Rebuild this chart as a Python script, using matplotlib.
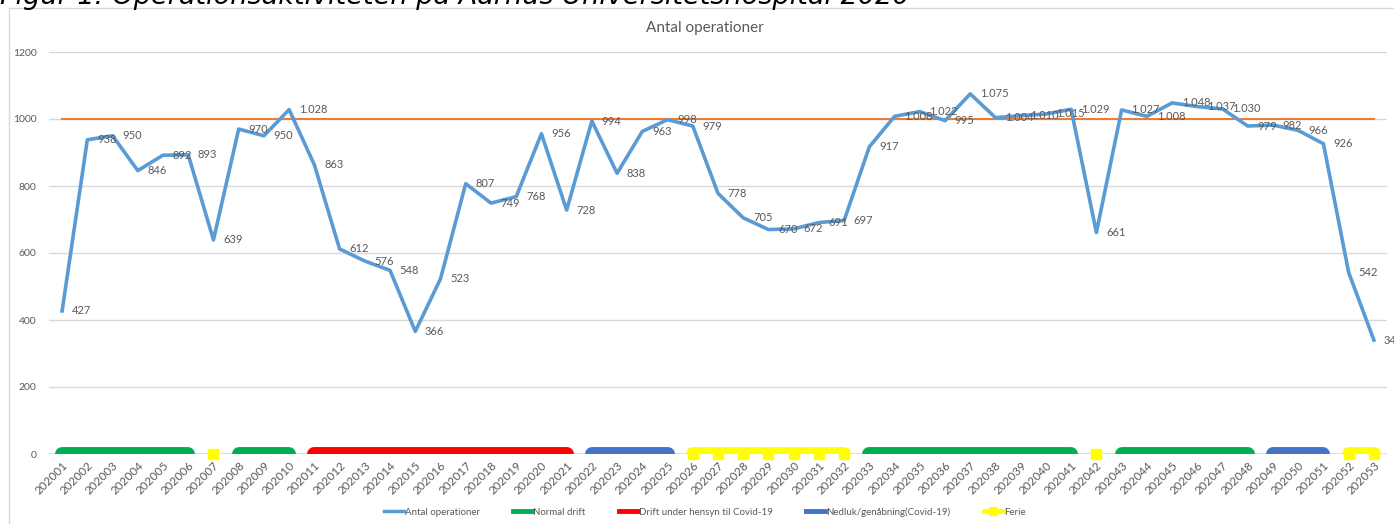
import numpy as np
import matplotlib
matplotlib.use("Agg")
import matplotlib.pyplot as plt
from matplotlib.lines import Line2D
from matplotlib.patches import Rectangle

plt.rcParams["font.family"] = ["Lato", "DejaVu Sans"]

# ---- data -------------------------------------------------------------
WEEKS = [f"2020{w:02d}" for w in range(1, 54)]

OPERATIONS = [
    427, 938, 950, 846, 892, 893, 639, 970, 950, 1028,
    863, 612, 576, 548, 366, 523, 807, 749, 768, 956,
    728, 994, 838, 963, 998, 979, 778, 705, 670, 672,
    691, 697, 917, 1008, 1022, 995, 1075, 1004, 1010, 1015,
    1029, 661, 1027, 1008, 1048, 1037, 1030, 979, 982, 966,
    926, 542, 340,
]

TARGET = 1000

# phase per week: N = normal drift, C = drift under covid, L = nedluk/genaabning, F = ferie
PHASES = (
    ["N"] * 6 + ["F"] + ["N"] * 3 + ["C"] * 11 + ["L"] * 4
    + ["F"] * 7 + ["N"] * 9 + ["F"] + ["N"] * 6 + ["L"] * 3 + ["F"] * 2
)

LABELS = {
    "N": "Normal drift",
    "C": "Drift under hensyn til Covid-19",
    "L": "Nedluk/genåbning(Covid-19)",
    "F": "Ferie",
}
COLORS = {"N": "#00B050", "C": "#FF0000", "L": "#4472C4", "F": "#FFFF00"}

BLUE = "#5B9BD5"
ORANGE = "#ED7D31"
GREY_TXT = "#595959"
GRID = "#D9D9D9"


def fmt(v):
    return f"{v:,}".replace(",", ".")


def phase_series(code):
    # 0 where the week belongs to the phase, gaps elsewhere
    return np.array([0.0 if p == code else np.nan for p in PHASES])


fig = plt.figure(figsize=(13.94, 5.24), dpi=100)
ax = fig.add_axes([49 / 1394, 1 - 454 / 524, (1387 - 49) / 1394, (454 - 52) / 524])

x = np.arange(len(WEEKS))

# chart area border + cut-off figure caption
fig.patches.append(Rectangle((9 / 1394, -0.05), 1.1, 1 - 8 / 524 + 0.05,
                             transform=fig.transFigure, fill=False,
                             edgecolor=GRID, lw=1.0))
fig.text(0.0, 1 - 4 / 524, "Figur 1: Operationsaktiviteten på Aarhus Universitetshospital 2020",
         family="DejaVu Sans", style="italic", fontsize=19.5, ha="left", va="baseline",
         color="#000000")

ax.set_xlim(-0.52, len(WEEKS) - 0.48)
ax.set_ylim(0, 1200)
ax.set_yticks(range(0, 1201, 200))
ax.grid(axis="y", color=GRID, lw=1.0)
ax.set_axisbelow(True)
for s in ax.spines.values():
    s.set_visible(False)
ax.axhline(0, color=GRID, lw=1.2, zorder=1)

ax.set_xticks(x)
ax.set_xticklabels(WEEKS, rotation=45, ha="right", va="top", rotation_mode="anchor")
ax.tick_params(axis="both", length=0, colors=GREY_TXT)
ax.tick_params(axis="x", pad=4, labelsize=8.5)
ax.tick_params(axis="y", pad=9, labelsize=7.5)

# target line
ax.plot(x, [TARGET] * len(x), color=ORANGE, lw=1.5, zorder=2)

# main series
ax.plot(x, OPERATIONS, color=BLUE, lw=2.6, zorder=3, solid_joinstyle="round")
for xi, v in zip(x, OPERATIONS):
    ax.annotate(fmt(v), (xi, v), xytext=(7, 0), textcoords="offset points",
                ha="left", va="center", fontsize=8, color=GREY_TXT, zorder=4,
                annotation_clip=False)

# phase bars along the bottom (line clipped at 0, markers not)
for code in ["N", "C", "L", "F"]:
    ax.plot(x, phase_series(code), color=COLORS[code], lw=10,
            solid_capstyle="round", zorder=3)
ax.plot(x, phase_series("F"), color="none", lw=0, marker="s", ms=6.5,
        mfc=COLORS["F"], mec=COLORS["F"], zorder=3, clip_on=False)

fig.text(705 / 1394, 1 - 28 / 524, "Antal operationer", ha="center", va="center",
         fontsize=11, color=GREY_TXT)

handles = [Line2D([], [], color=BLUE, lw=2.5)]
handles += [Line2D([], [], color=COLORS[c], lw=3.5) for c in ["N", "C", "L"]]
handles.append(Line2D([], [], color=COLORS["F"], lw=3.5, marker="s", ms=6,
                      mec=COLORS["F"]))
labels = ["Antal operationer"] + [LABELS[c] for c in ["N", "C", "L", "F"]]
fig.legend(handles, labels, loc="center", bbox_to_anchor=(705 / 1394, 1 - 512 / 524),
           ncol=5, frameon=False, fontsize=7, handlelength=2.0, handletextpad=0.1,
           columnspacing=3.4, labelcolor=GREY_TXT)

fig.savefig("out.png", dpi=100)
